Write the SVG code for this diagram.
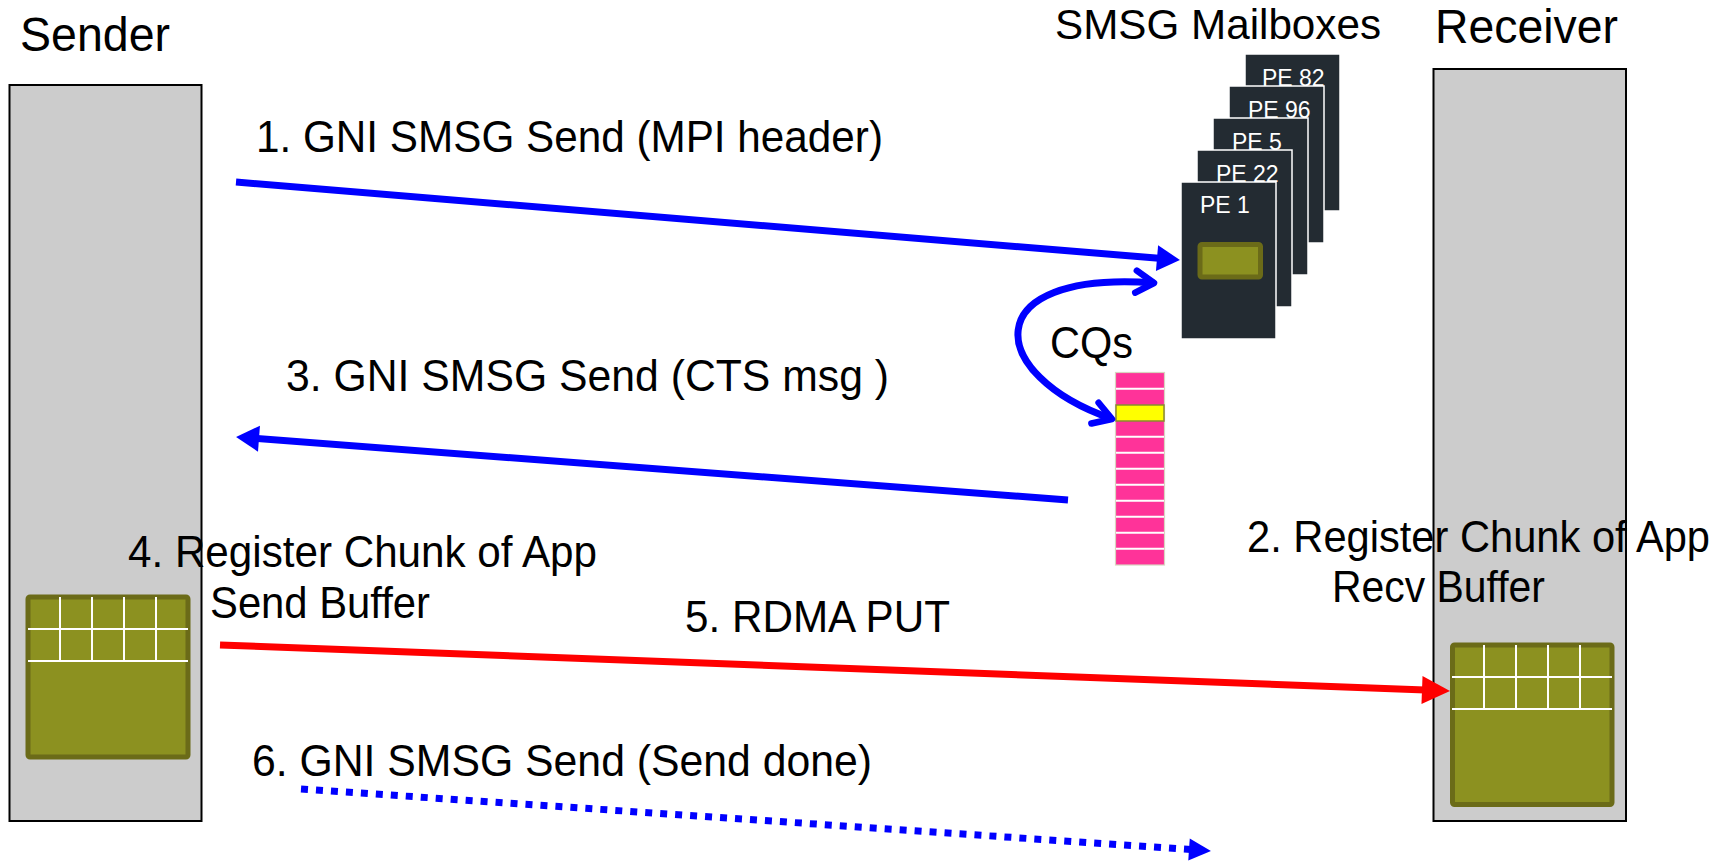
<svg xmlns="http://www.w3.org/2000/svg" width="1733" height="862" viewBox="0 0 1733 862">
<style>
  .lbl { font-family: "Liberation Sans", Arial, sans-serif; fill: #000; }
  .big { font-size: 49px; }
  .mid { font-size: 44px; }
  .pe { font-family: "Liberation Sans", Arial, sans-serif; font-size: 23px; fill: #fff; }
  .host { fill: #cccccc; stroke: #000; stroke-width: 2; }
  .buf { fill: #8c9120; stroke: #6b6b18; stroke-width: 5; }
  .grid { stroke: #fff; stroke-width: 2; fill: none; }
  .card { fill: #232b32; stroke: #fff; stroke-width: 1.5; }
  .cq { fill: #ff3399; }
  .cqsep { stroke: #fff; stroke-width: 2; }
  .blue { stroke: #0000ff; stroke-width: 7; fill: none; }
  .red { stroke: #ff0000; stroke-width: 7; fill: none; }
</style>
<defs>
  <marker id="hBlue" markerUnits="userSpaceOnUse" markerWidth="24" markerHeight="26" refX="8" refY="13" orient="auto" overflow="visible">
    <path d="M0,0 L23,13 L0,26 z" fill="#0000ff"/>
  </marker>
  <marker id="hRed" markerUnits="userSpaceOnUse" markerWidth="30" markerHeight="28" refX="10" refY="14" orient="auto" overflow="visible">
    <path d="M0,0 L28,14 L0,28 z" fill="#ff0000"/>
  </marker>
  <marker id="hDot" markerUnits="userSpaceOnUse" markerWidth="22" markerHeight="22" refX="8" refY="11" orient="auto" overflow="visible">
    <path d="M0,0 L22,11 L0,22 z" fill="#0000ff"/>
  </marker>
  <marker id="hOpen" markerUnits="userSpaceOnUse" markerWidth="24" markerHeight="24" refX="20" refY="12" orient="auto-start-reverse" overflow="visible">
    <path d="M2,1 L20,12 L2,23" fill="none" stroke="#0000ff" stroke-width="6.5" stroke-linecap="round" stroke-linejoin="round"/>
  </marker>
</defs>

<g id="sender">
  <rect class="host" x="9.5" y="85" width="192" height="736"/>
  <text class="lbl big" x="20" y="51" textLength="150" lengthAdjust="spacingAndGlyphs">Sender</text>
</g>

<g id="sender-buffer">
  <rect class="buf" x="28" y="597" width="160" height="160" rx="2"/>
  <path class="grid" d="M28,629 H188 M28,661 H188 M60,597 V661 M92,597 V661 M124,597 V661 M156,597 V661"/>
</g>

<g id="receiver">
  <rect class="host" x="1433.5" y="69" width="192.5" height="752"/>
  <text class="lbl big" x="1435" y="43" textLength="183" lengthAdjust="spacingAndGlyphs">Receiver</text>
</g>

<g id="receiver-buffer">
  <rect class="buf" x="1452.5" y="645" width="159.5" height="159.5" rx="2"/>
  <path class="grid" d="M1452,677 H1612 M1452,709 H1612 M1484,645 V709 M1516,645 V709 M1548,645 V709 M1580,645 V709"/>
</g>

<g id="mailboxes">
  <text class="lbl" x="1055" y="39" font-size="42" textLength="326" lengthAdjust="spacingAndGlyphs">SMSG Mailboxes</text>
  <g id="pe82">
    <rect class="card" x="1245" y="54" width="95" height="157"/>
    <text class="pe" x="1262" y="85.5">PE 82</text>
  </g>
  <g id="pe96">
    <rect class="card" x="1229" y="86" width="95" height="157"/>
    <text class="pe" x="1248" y="117.5">PE 96</text>
  </g>
  <g id="pe5">
    <rect class="card" x="1213" y="118" width="95" height="157"/>
    <text class="pe" x="1232" y="149.5">PE 5</text>
  </g>
  <g id="pe22">
    <rect class="card" x="1197" y="150" width="95" height="157"/>
    <text class="pe" x="1216" y="181.5">PE 22</text>
  </g>
  <g id="pe1">
    <rect class="card" x="1181" y="182" width="95" height="157"/>
    <text class="pe" x="1200" y="213">PE 1</text>
    <rect x="1200" y="244.5" width="60.5" height="32.5" rx="2" fill="#8c9120" stroke="#6b6b18" stroke-width="5"/>
  </g>
</g>

<g id="cqs">
  <text class="lbl mid" x="1050" y="358" textLength="83" lengthAdjust="spacingAndGlyphs">CQs</text>
  <rect class="cq" x="1115.5" y="372.5" width="49" height="192.5" stroke="#d8d4c0" stroke-width="1.2"/>
  <path class="cqsep" d="M1116,388.7 H1164 M1116,436.7 H1164 M1116,452.7 H1164 M1116,468.7 H1164 M1116,484.7 H1164 M1116,500.7 H1164 M1116,516.7 H1164 M1116,532.7 H1164 M1116,548.7 H1164"/>
  <rect x="1116" y="405" width="48" height="16" fill="#ffff00" stroke="#8a8a30" stroke-width="1.5"/>
</g>

<g id="connectors">
  <line class="blue" x1="236" y1="182" x2="1165" y2="258.8" marker-end="url(#hBlue)"/>
  <path class="blue" d="M1112,419 C985,375 975,270 1154,283" marker-start="url(#hOpen)" marker-end="url(#hOpen)"/>
  <line class="blue" x1="1068" y1="500" x2="251" y2="438.1" marker-end="url(#hBlue)"/>
  <line class="red" x1="220" y1="645" x2="1432" y2="690.3" marker-end="url(#hRed)"/>
  <line class="blue" x1="301" y1="789" x2="1197" y2="850" stroke-dasharray="7 8" marker-end="url(#hDot)"/>
</g>

<g id="labels">
  <text class="lbl mid" x="256" y="152" textLength="627" lengthAdjust="spacingAndGlyphs">1. GNI SMSG Send (MPI header)</text>
  <text class="lbl mid" x="286" y="391" textLength="603" lengthAdjust="spacingAndGlyphs">3. GNI SMSG Send (CTS msg )</text>
  <text class="lbl mid" x="128" y="567" textLength="469" lengthAdjust="spacingAndGlyphs">4. Register Chunk of App</text>
  <text class="lbl mid" x="210" y="618" textLength="220" lengthAdjust="spacingAndGlyphs">Send Buffer</text>
  <text class="lbl mid" x="1247" y="552" textLength="463" lengthAdjust="spacingAndGlyphs">2. Register Chunk of App</text>
  <text class="lbl mid" x="1332" y="602" textLength="213" lengthAdjust="spacingAndGlyphs">Recv Buffer</text>
  <text class="lbl mid" x="685" y="632" textLength="265" lengthAdjust="spacingAndGlyphs">5. RDMA PUT</text>
  <text class="lbl mid" x="252" y="776" textLength="620" lengthAdjust="spacingAndGlyphs">6. GNI SMSG Send (Send done)</text>
</g>
</svg>
